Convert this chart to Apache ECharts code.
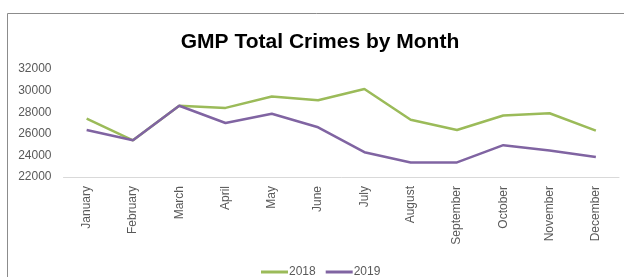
<!DOCTYPE html>
<html>
<head>
<meta charset="utf-8">
<script src="https://cdn.jsdelivr.net/npm/echarts@6/dist/echarts.min.js"></script>
<style>
  html, body { margin: 0; padding: 0; background: #fff; }
  #chart { width: 624px; height: 277px; }
</style>
</head>
<body>
<div id="chart"></div>
<script>
// chart data
var months = ['January', 'February', 'March', 'April', 'May', 'June',
  'July', 'August', 'September', 'October', 'November', 'December'];
var crimes2018 = [27400, 25400, 28600, 28400, 29450, 29100, 30150, 27300, 26350, 27700, 27900, 26300];
var crimes2019 = [26350, 25400, 28600, 27000, 27850, 26600, 24300, 23350, 23350, 24950, 24450, 23850];
var yTicks = [22000, 24000, 26000, 28000, 30000, 32000];

var FONT = '"Liberation Sans", Arial, sans-serif';
var chart = echarts.init(document.getElementById('chart'));

chart.setOption({
  animation: false,
  color: ['#9BBB59', '#8064A2'],
  title: {
    text: 'GMP Total Crimes by Month',
    left: 315,
    textAlign: 'center',
    top: 27,
    textStyle: { fontFamily: FONT, fontSize: 21, fontWeight: 'bold', color: '#000' }
  },
  graphic: [{
    // outer chart frame
    type: 'rect',
    shape: { x: 7.5, y: 13.5, width: 700, height: 400 },
    style: { fill: 'none', stroke: '#8c8c8c', lineWidth: 1 },
    silent: true
  }],
  legend: {
    data: ['2018', '2019'],
    left: 256,
    top: 261,
    icon: 'rect',
    itemWidth: 27,
    itemHeight: 3,
    itemGap: 10,
    textStyle: { fontFamily: FONT, fontSize: 12, color: '#595959', padding: [0, 0, 0, -4] }
  },
  grid: { left: 63.5, right: 5, top: 69, bottom: 100, containLabel: false },
  xAxis: {
    type: 'category',
    data: months,
    boundaryGap: true,
    axisLine: { lineStyle: { color: '#d9d9d9', width: 1 } },
    axisTick: { show: false },
    axisLabel: {
      rotate: 90,
      margin: 9,
      interval: 0,
      fontFamily: FONT,
      fontSize: 12,
      color: '#595959'
    }
  },
  yAxis: {
    type: 'value',
    min: yTicks[0],
    max: yTicks[yTicks.length - 1],
    interval: 2000,
    axisLine: { show: false },
    axisTick: { show: false },
    splitLine: { show: false },
    axisLabel: {
      margin: 12,
      fontFamily: FONT,
      fontSize: 12,
      color: '#595959',
      formatter: function (v) { return String(v); }
    }
  },
  series: [
    {
      name: '2018',
      type: 'line',
      data: crimes2018,
      showSymbol: false,
      symbol: 'none',
      lineStyle: { width: 2.5 }
    },
    {
      name: '2019',
      type: 'line',
      data: crimes2019,
      showSymbol: false,
      symbol: 'none',
      lineStyle: { width: 2.5 }
    }
  ]
});
</script>
</body>
</html>
